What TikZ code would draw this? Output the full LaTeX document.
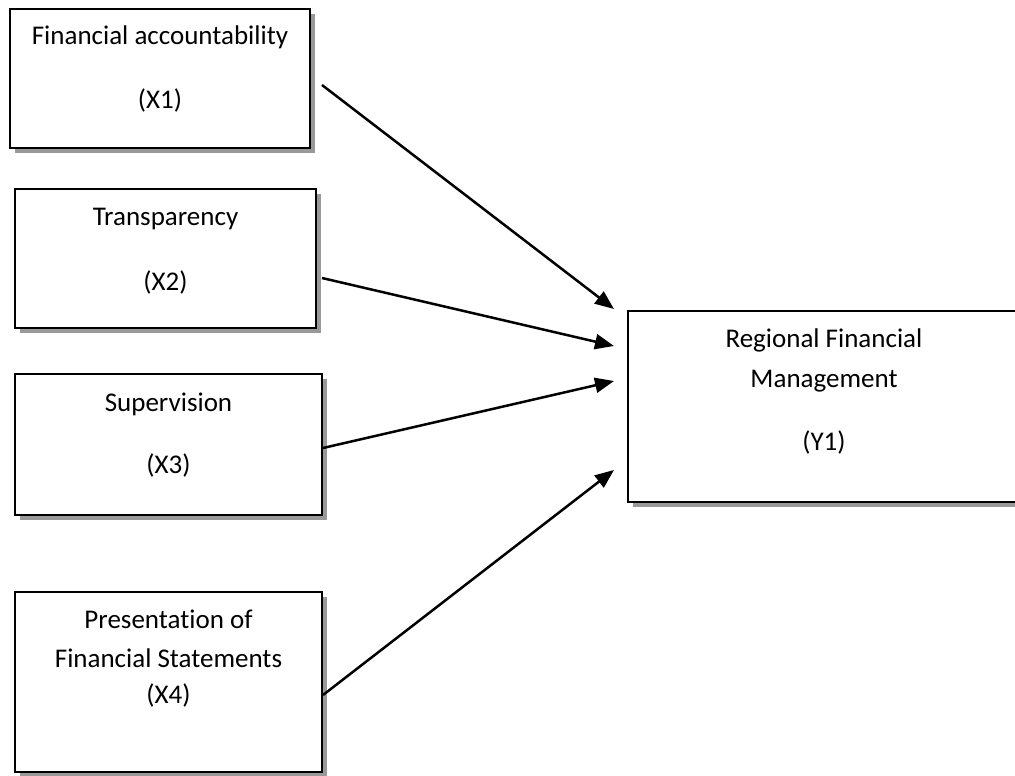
\documentclass[tikz,border=0pt]{standalone}
\usepackage{fontspec}
\setmainfont{Carlito}[Ligatures={NoCommon}]
\usetikzlibrary{arrows.meta,shadows,calc}
\begin{document}
\begin{tikzpicture}[x=1pt,y=-1pt,
  box/.style={draw=black,line width=1.5pt,fill=white,inner sep=0pt,outer sep=0pt,
    drop shadow={shadow xshift=5pt,shadow yshift=-5pt,fill=black!40,opacity=1}},
  lbl/.style={font=\fontsize{27}{27}\selectfont,inner sep=0pt,anchor=base},
  arr/.style={line width=2.5pt,-{Triangle[length=19pt,width=15pt]}}]
\clip (0,0) rectangle (1015,776);
\fill[white] (0,0) rectangle (1015,776);
% boxes
\node[box,minimum width=300pt,minimum height=139pt] (x1) at (160,78.5) {};
\node[box,minimum width=301pt,minimum height=139pt] (x2) at (165.5,258.5) {};
\node[box,minimum width=307pt,minimum height=141pt] (x3) at (168.5,444.5) {};
\node[box,minimum width=307pt,minimum height=180pt] (x4) at (168.5,682) {};
\node[box,minimum width=392pt,minimum height=191pt] (y1) at (824,406.5) {};
% labels
\node[lbl] (x1a) at (160,45) {Financial accountability};
\node[lbl] (x1b) at (160,108) {(X1)};
\node[lbl] (x2a) at (165.5,225) {Transparency};
\node[lbl] (x2b) at (165.5,290) {(X2)};
\node[lbl] (x3a) at (168.5,411) {Supervision};
\node[lbl] (x3b) at (168.5,473) {(X3)};
\node[lbl] (x4a) at (168.5,628) {Presentation of};
\node[lbl] (x4b) at (168.5,667) {Financial Statements};
\node[lbl] (x4c) at (168.5,703) {(X4)};
\node[lbl] (y1a) at (824,347) {Regional Financial};
\node[lbl] (y1b) at (824,387) {Management};
\node[lbl] (y1c) at (824,450) {(Y1)};
% arrow tips
\coordinate (t1) at (614,309);
\coordinate (t2) at (614,346);
\coordinate (t3) at (614,381);
\coordinate (t4) at (614,470);
\draw[arr] ($(x1.east)+(12,6.5)$) -- (t1);
\draw[arr] ($(x2.east)+(6,19.5)$) -- (t2);
\draw[arr] ($(x3.east)+(1,3.5)$) -- (t3);
\draw[arr] ($(x4.east)+(1,13)$) -- (t4);
\end{tikzpicture}
\end{document}
